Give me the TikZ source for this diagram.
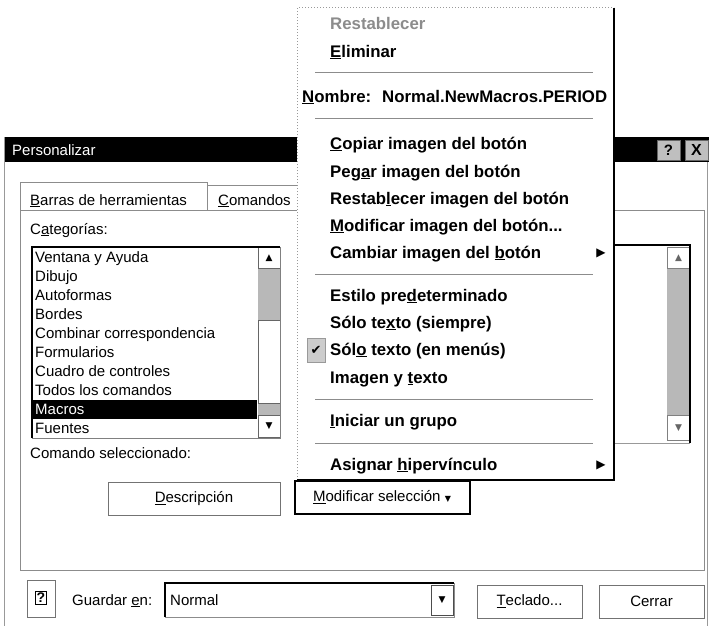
\documentclass[tikz,border=0pt]{standalone}
\usepackage{fontspec}
\setmainfont{Liberation Sans}
\newfontfamily\symfont{DejaVu Sans}
\usetikzlibrary{positioning}
\newcommand{\acc}[1]{\underline{#1}}
\tikzset{
  mymenuitem/.style={
    anchor=base west,
    inner sep=0pt,
    font=\bfseries\fontsize{16.8}{18}\selectfont
  },
  mylabel/.style={
    anchor=base west,
    inner sep=0pt,
    font=\fontsize{15}{17}\selectfont
  },
  mybutton/.style={
    draw=black!55,
    line width=1pt,
    inner sep=0pt,
    minimum height=33pt,
    font=\fontsize{15}{17}\selectfont
  },
  myseparator/.style={
    draw=black!45,
    line width=1pt
  },
  mytrack/.style={
    fill=black!28
  },
  myglyph/.style={
    inner sep=0pt,
    font=\symfont\fontsize{9}{9}\selectfont
  }
}

\begin{document}
\begin{tikzpicture}[x=1pt, y=-1pt]
    \useasboundingbox (0,0) rectangle (709,626);
    \fill[white] (0,0) rectangle (709,626);

    % dialog frame and title bar
    \draw[black!40] (4,137) -- (4,626);
    \draw[black!40] (707,137) -- (707,626);
    \fill[black] (5,137) rectangle (709,162);
    \node [anchor=base west, inner sep=0pt, white, font=\fontsize{15}{17}\selectfont] (title) at (12,155) {Personalizar};
    \node [draw=black!60, fill=black!25, minimum width=23pt, minimum height=20pt, inner sep=0pt, font=\bfseries\fontsize{15}{15}\selectfont] (help) at (668.5,150) {?};
    \node [draw=black!60, fill=black!25, minimum width=23pt, minimum height=20pt, inner sep=0pt, font=\bfseries\fontsize{16}{16}\selectfont] (close) at (696.5,150) {X};

    % tabs and panel
    \draw[black!45] (20,210) -- (20,182) -- (207,182) -- (207,210);
    \draw[black!45] (207,185) -- (300,185);
    \draw[black!45] (20,210) rectangle (704,570);
    \node [mylabel] (tabBarras) at (30,205) {\acc{B}arras de herramientas};
    \node [mylabel] (tabComandos) at (218,205) {\acc{C}omandos};
    \node [mylabel] (categorias) at (30,234) {C\acc{a}tegorías:};

    % categories list
    \fill[white] (32,247) rectangle (280,438);
    \fill[mytrack] (258,268) rectangle (280,415);
    \draw[black!60, fill=white] (258,320) rectangle (280,403);
    \draw[black!60] (258,247) rectangle (280,268);
    \draw[black!60] (258,415) rectangle (280,437);
    \node [myglyph] (upLeft) at (269,258) {▲};
    \node [myglyph] (downLeft) at (269,426) {▼};
    \fill[black] (33,400) rectangle (257,419);
    \draw[black, line width=1.5pt] (32,438) -- (32,247) -- (280,247);
    \draw[black!50] (280,247) -- (280,438) -- (32,438);
    \node [mylabel] (catVentana) at (35,262) {Ventana y Ayuda};
    \node [mylabel] (catDibujo) at (35,281) {Dibujo};
    \node [mylabel] (catAutoformas) at (35,300) {Autoformas};
    \node [mylabel] (catBordes) at (35,319) {Bordes};
    \node [mylabel] (catCombinar) at (35,338) {Combinar correspondencia};
    \node [mylabel] (catFormularios) at (35,357) {Formularios};
    \node [mylabel] (catCuadro) at (35,376) {Cuadro de controles};
    \node [mylabel] (catTodos) at (35,395) {Todos los comandos};
    \node [mylabel, white] (catMacros) at (35,414) {Macros};
    \node [mylabel] (catFuentes) at (35,433) {Fuentes};

    % commands list (mostly behind the menu)
    \fill[mytrack] (667,268) rectangle (690,415);
    \draw[black!50] (667,247) rectangle (690,268);
    \draw[black!50] (667,415) rectangle (690,440);
    \node [myglyph, black!60] (upRight) at (678.5,258) {▲};
    \node [myglyph, black!60] (downRight) at (678.5,428) {▼};
    \draw[black, line width=1.5pt] (560,245) -- (690,245) -- (690,443);
    \draw[black!40] (560,443) -- (690,443);

    % lower part of the panel
    \node [mylabel] (comando) at (30,458) {Comando seleccionado:};
    \node [mybutton, minimum width=172pt] (descripcion) at (194,499) {\acc{D}escripción};
    \node [mybutton, draw=black, line width=2pt, minimum width=175pt] (modificar) at (382,497) {\acc{M}odificar selección {\symfont\fontsize{8}{8}\selectfont ▼}};

    % bottom row
    \draw[black!55] (27,580) rectangle (55,617);
    \node [draw=black, line width=1.2pt, inner sep=1.5pt, font=\bfseries\fontsize{14}{14}\selectfont] (helpBtn) at (41,598) {?};
    \node [mylabel] (guardar) at (72,605) {Guardar \acc{e}n:};
    \draw[black!45] (165,583) rectangle (454,617);
    \draw[black, line width=1.5pt] (165,617) -- (165,583) -- (454,583);
    \node [mylabel] (normal) at (170,605) {Normal};
    \node [draw=black!70, line width=1pt, minimum width=22pt, minimum height=30pt, inner sep=0pt] (drop) at (442,600) {};
    \node [myglyph] (dropArrow) at (drop) {▼};
    \node [mybutton, minimum width=105pt] (teclado) at (529.5,601.5) {\acc{T}eclado...};
    \node [mybutton, minimum width=105pt] (cerrar) at (651.5,601.5) {Cerrar};

    % context menu
    \fill[white] (297,8) rectangle (614,480);
    \draw[black!40, dotted, line width=1pt] (297,480) -- (297,8) -- (614,8);
    \draw[black, line width=2pt] (614,8) -- (614,480) -- (297,480);
    \node [mymenuitem, black!45] (mRestablecer) at (330,30) {Restablecer};
    \node [mymenuitem] (mEliminar) at (330,57) {\acc{E}liminar};
    \draw[myseparator] (315,72) -- (593,72);
    \node [mymenuitem] (mNombre) at (302,102) {\acc{N}ombre:};
    \node [mymenuitem] (mNombreVal) at (382,102) {Normal.NewMacros.PERIOD};
    \draw[myseparator] (315,118) -- (593,118);
    \node [mymenuitem] (mCopiar) at (330,149) {\acc{C}opiar imagen del botón};
    \node [mymenuitem] (mPegar) at (330,177) {Peg\acc{a}r imagen del botón};
    \node [mymenuitem] (mRestImg) at (330,204) {Restab\acc{l}ecer imagen del botón};
    \node [mymenuitem] (mModImg) at (330,231) {\acc{M}odificar imagen del botón...};
    \node [mymenuitem] (mCambiar) at (330,258) {Cambiar imagen del \acc{b}otón};
    \node [myglyph, font=\symfont\fontsize{12}{12}\selectfont] (subCambiar) at (601,253) {▶};
    \draw[myseparator] (315,274) -- (593,274);
    \node [mymenuitem] (mEstilo) at (330,301) {Estilo pre\acc{d}eterminado};
    \node [mymenuitem] (mSiempre) at (330,328) {Sólo te\acc{x}to (siempre)};
    \node [draw=black!40, fill=black!20, minimum width=18pt, minimum height=24pt, inner sep=0pt] (checkBox) at (316,350) {};
    \node [myglyph, font=\symfont\fontsize{13}{13}\selectfont] (check) at (checkBox) {✔};
    \node [mymenuitem] (mMenus) at (330,355) {Sól\acc{o} texto (en menús)};
    \node [mymenuitem] (mImagen) at (330,383) {Imagen y \acc{t}exto};
    \draw[myseparator] (315,399) -- (593,399);
    \node [mymenuitem] (mIniciar) at (330,426) {\acc{I}niciar un grupo};
    \draw[myseparator] (315,443) -- (593,443);
    \node [mymenuitem] (mAsignar) at (330,470) {Asignar \acc{h}ipervínculo};
    \node [myglyph, font=\symfont\fontsize{12}{12}\selectfont] (subAsignar) at (601,465) {▶};

  \end{tikzpicture}
\end{document}
